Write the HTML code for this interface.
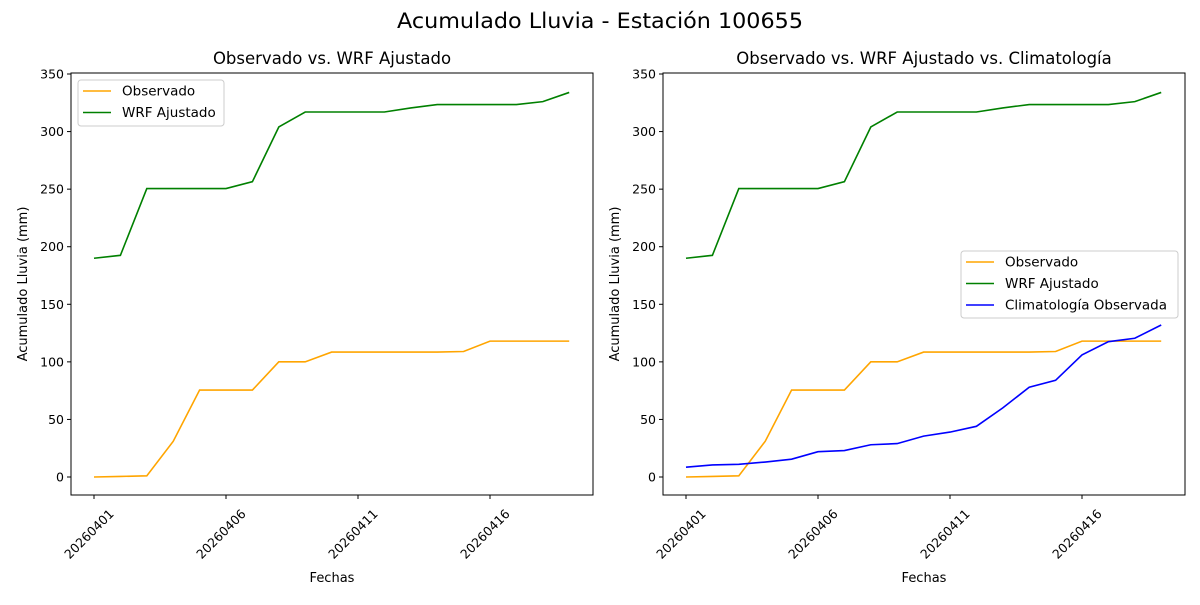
<!DOCTYPE html>
<html><head><meta charset="utf-8"><style>
body{margin:0;background:#fff;}
svg text{font-family:"DejaVu Sans","Liberation Sans",sans-serif;fill:#000;}
</style></head><body>
<svg id="s" width="1200" height="600" xmlns="http://www.w3.org/2000/svg">
<rect width="1200" height="600" fill="#fff"/>
<text x="600" y="28" font-size="21" text-anchor="middle" textLength="406" lengthAdjust="spacingAndGlyphs">Acumulado Lluvia - Estación 100655</text>
</svg>
<script>
const NS="http://www.w3.org/2000/svg",s=document.getElementById('s');
function el(t,a,txt){const e=document.createElementNS(NS,t);for(const k in a)e.setAttribute(k,a[k]);if(txt!=null)e.textContent=txt;s.appendChild(e);return e;}
const obs=[0,0.5,1,31,75.5,75.5,75.5,100,100,108.5,108.5,108.5,108.5,108.5,109,118,118,118,118];
const wrf=[190,192.5,250.5,250.5,250.5,250.5,256.5,304,317,317,317,317,320.5,323.5,323.5,323.5,323.5,326,334];
const cli=[8.5,10.5,11,13,15.5,22,23,28,29,35.5,39,44,60,78,84,106,117.5,120.5,132];
function panel(ox,title,series,leg){
  const L=ox+71,R=ox+593,T=73,B=495;
  const X=i=>ox+94+i*26.4, Y=v=>477-v*1.1514;
  el('text',{x:(L+R)/2,y:64,'font-size':16.5,'text-anchor':'middle'},title);
  series.forEach(([d,c])=>el('polyline',{points:d.map((v,i)=>X(i)+','+Y(v)).join(' '),fill:'none',stroke:c,'stroke-width':1.6}));
  el('rect',{x:L,y:T,width:R-L,height:B-T,fill:'none',stroke:'#000','stroke-width':1});
  for(let v=0;v<=350;v+=50){const y=Y(v);el('line',{x1:L-4,x2:L,y1:y,y2:y,stroke:'#000'});el('text',{x:L-7,y:y+4.5,'font-size':12.5,'text-anchor':'end'},v);}
  ['20260401','20260406','20260411','20260416'].forEach((t,k)=>{const x=X(k*5);el('line',{x1:x,x2:x,y1:B,y2:B+4,stroke:'#000'});const cx=x-5,cy=B+39;el('text',{x:cx,y:cy+4.5,'font-size':12.5,'text-anchor':'middle',transform:`rotate(-45 ${cx} ${cy})`},t);});
  el('text',{x:(L+R)/2,y:582,'font-size':13,'text-anchor':'middle'},'Fechas');
  el('text',{x:ox+27,y:284,'font-size':13,'text-anchor':'middle',transform:`rotate(-90 ${ox+27} 284)`},'Acumulado Lluvia (mm)');
  el('rect',{x:leg[0],y:leg[1],width:leg[2],height:leg[3],fill:'#fff',stroke:'#ccc',rx:3});
  leg[4].forEach(([n,c],i)=>{const y=leg[1]+11+i*21.5;el('line',{x1:leg[0]+5,x2:leg[0]+33,y1:y,y2:y,stroke:c,'stroke-width':1.6});el('text',{x:leg[0]+44,y:y+4.5,'font-size':13.5},n);});
}
panel(0,'Observado vs. WRF Ajustado',[[obs,'orange'],[wrf,'green']],[78,80,146,46,[['Observado','orange'],['WRF Ajustado','green']]]);
panel(592,'Observado vs. WRF Ajustado vs. Climatología',[[obs,'orange'],[wrf,'green'],[cli,'blue']],[961,251,217,67,[['Observado','orange'],['WRF Ajustado','green'],['Climatología Observada','blue']]]);
</script>
</body></html>
